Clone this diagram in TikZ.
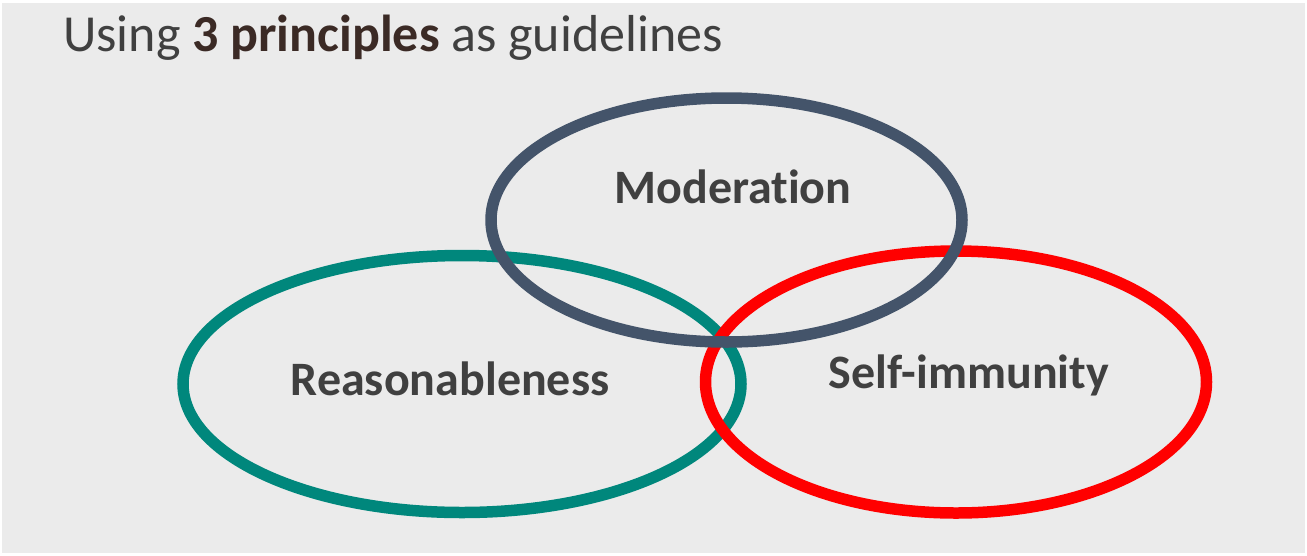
\documentclass[tikz,border=0pt]{standalone}
\usepackage{fontspec}
\setmainfont[Ligatures=NoCommon]{Carlito}
\usetikzlibrary{shapes.geometric}
\definecolor{bgray}{HTML}{EBEBEB}
\definecolor{cblue}{HTML}{44546A}
\definecolor{cteal}{HTML}{00877C}
\definecolor{cred}{HTML}{FF0000}
\definecolor{ctext}{HTML}{404040}
\definecolor{cbrown}{HTML}{3B2A25}
\tikzset{
  ring/.style={draw, ellipse, line width=11.5pt, inner sep=0pt, outer sep=0pt},
  label/.style={font=\fontsize{48}{58}\selectfont\bfseries, text=ctext, inner sep=0pt, anchor=base},
}
\begin{document}
\begin{tikzpicture}[x=1pt,y=-1pt]
\useasboundingbox (0,0) rectangle (1307,555);
\fill[white] (0,0) rectangle (1307,555);
\fill[bgray] (2,3) rectangle (1305,553);
\node[font=\fontsize{52}{62}\selectfont, text=ctext, inner sep=0pt, anchor=base west] (title) at (63,51)
  {Using \textbf{\textcolor{cbrown}{3 principles}} as guidelines};
\node[ring, draw=cteal, minimum width=558pt, minimum height=257pt] (reas) at (462,384) {};
\node[ring, draw=cred, minimum width=501pt, minimum height=262pt] (self) at (956,382) {};
\node[ring, draw=cblue, minimum width=471pt, minimum height=244pt] (mod) at (726.5,220) {};
\node[label] (tmod) at (733,203) {Moderation};
\node[label] (treas) at (450,395) {Reasonableness};
\node[label] (tself) at (969,388) {Self-immunity};
\end{tikzpicture}
\end{document}
